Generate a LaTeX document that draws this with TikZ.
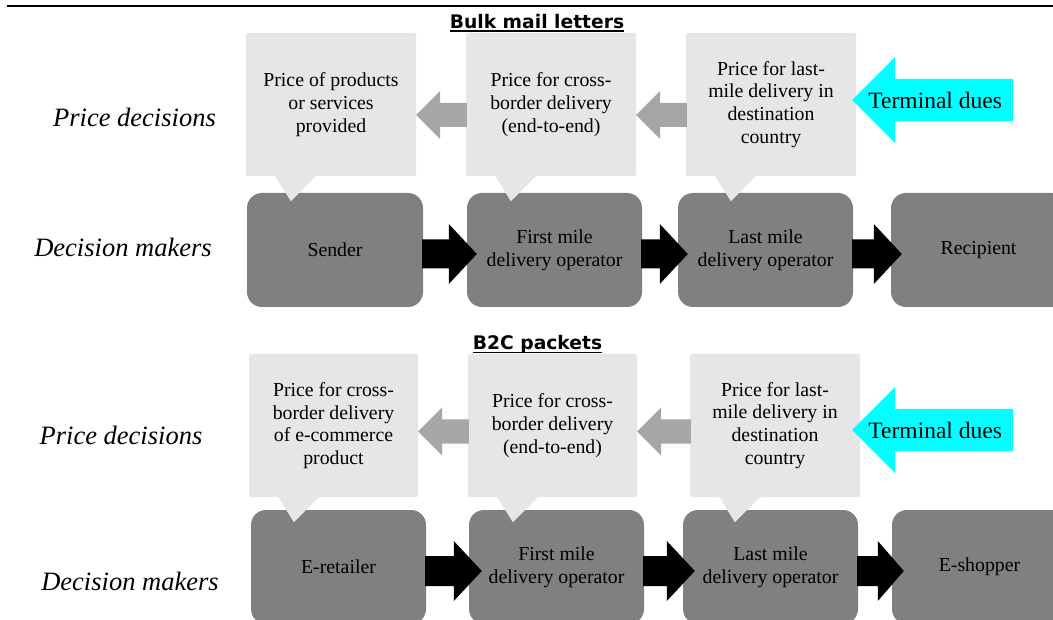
\documentclass[tikz,border=0pt]{standalone}
\usepackage{fontspec}
\setmainfont{Liberation Serif}
\newfontfamily\headfont{DejaVu Sans}
\usetikzlibrary{calc}

\definecolor{boxlight}{HTML}{E6E6E6}
\definecolor{boxdark}{HTML}{808080}
\definecolor{flowgrey}{HTML}{A6A6A6}
\definecolor{duescyan}{HTML}{00FFFF}

\tikzset{
  pricebox/.style={fill=boxlight, rounded corners=1.5pt, minimum width=170pt,
    minimum height=143pt, inner sep=0pt, align=center,
    font=\fontsize{19.8}{22.7}\selectfont},
  actorbox/.style={fill=boxdark, rounded corners=15pt, minimum width=175pt,
    minimum height=114pt, inner sep=0pt, align=center, text=black,
    font=\fontsize{19.8}{22.7}\selectfont},
  rowlabel/.style={inner sep=0pt, anchor=base,
    font=\fontsize{26.5}{30}\selectfont\itshape},
  sectiontitle/.style={inner sep=0pt, anchor=base,
    font=\headfont\bfseries\fontsize{18.7}{21}\selectfont},
  duestext/.style={inner sep=0pt, font=\fontsize{23.5}{26}\selectfont},
}

% speech-bubble tail under a price box
\newcommand\callout[1]{%
  \fill[boxlight] ($(#1.south west)+(29,-1)$) -- ($(#1.south west)+(71,-1)$)
    -- ($(#1.south west)+(45,25)$) -- cycle;}

% block arrow: colour, tail point, tip point, signed head length,
% head half-width, shaft half-width
\newcommand\blockarrow[6]{%
  \fill[#1] let \p1=#2, \p2=#3 in
    (\x1,{\y2+#6}) -- ({\x2-(#4)},{\y2+#6}) -- ({\x2-(#4)},{\y2+#5})
    -- (\x2,\y2) -- ({\x2-(#4)},{\y2-#5}) -- ({\x2-(#4)},{\y2-#6})
    -- (\x1,{\y2-#6}) -- cycle;}

\begin{document}
\begin{tikzpicture}[x=1pt,y=-1pt]
\clip (0,0) rectangle (1053,620);
\fill[white] (0,0) rectangle (1053,620);

% rule under the heading
\draw[line width=2pt] (7,6.3) -- (1053,6.3);

% ---------- Bulk mail letters ----------
\node[sectiontitle] (ttop) at (537,28.5) {Bulk mail letters};
\draw[line width=1.5pt] ($(ttop.base west)+(0,2.6)$) -- ($(ttop.base east)+(0,2.6)$);

\node[rowlabel] (lpriceA) at (134.5,127) {Price decisions};
\node[rowlabel] (lmakerA) at (123,257) {Decision makers};

\node[pricebox] (pa1) at (331,104.5) {Price of products\\or services\\provided};
\node[pricebox] (pa2) at (551,104.5) {Price for cross-\\border delivery\\(end-to-end)};
\node[pricebox] (pa3) at (771,104.5) {Price for last-\\mile delivery in\\destination\\country};

\node[actorbox, minimum width=176pt] (aa1) at (335,250) {Sender};
\node[actorbox] (aa2) at (554.5,250) {First mile\\delivery operator};
\node[actorbox] (aa3) at (765.5,250) {Last mile\\delivery operator};
\node[actorbox] (aa4) at (978.5,250) {Recipient};

\callout{pa1}\callout{pa2}\callout{pa3}

\blockarrow{flowgrey}{($(pa2.west)+(1,10.5)$)}{($(pa1.east)+(0,10.5)$)}{-24pt}{24pt}{12pt}
\blockarrow{flowgrey}{($(pa3.west)+(1,10.5)$)}{($(pa2.east)+(0,10.5)$)}{-24pt}{24pt}{12pt}

\blockarrow{black}{($(aa1.east)+(-1,4)$)}{($(aa2.west)+(10,4)$)}{28pt}{30pt}{14.5pt}
\blockarrow{black}{($(aa2.east)+(-1,4)$)}{($(aa3.west)+(10,4)$)}{28pt}{30pt}{14.5pt}
\blockarrow{black}{($(aa3.east)+(-1,4)$)}{($(aa4.west)+(11,4)$)}{28pt}{30pt}{14.5pt}

\coordinate (duesA) at (1013,100);
\blockarrow{duescyan}{(duesA)}{($(pa3.east)+(-4,-4.5)$)}{-43pt}{43pt}{21pt}
\node[duestext] (tdA) at ($(pa3.east)+(79,-4.5)$) {Terminal dues};

% ---------- B2C packets ----------
\node[sectiontitle] (tbot) at (537.5,350) {B2C packets};
\draw[line width=1.5pt] ($(tbot.base west)+(0,2.4)$) -- ($(tbot.base east)+(0,2.4)$);

\node[rowlabel] (lpriceB) at (121,444) {Price decisions};
\node[rowlabel] (lmakerB) at (130,590.5) {Decision makers};

\node[pricebox, minimum width=169pt] (pb1) at (333.5,425.5) {Price for cross-\\border delivery\\of e-commerce\\product};
\node[pricebox, minimum width=169pt] (pb2) at (552.5,425.5) {Price for cross-\\border delivery\\(end-to-end)};
\node[pricebox] (pb3) at (775,425.5) {Price for last-\\mile delivery in\\destination\\country};

\node[actorbox] (ab1) at (338.5,567) {E-retailer};
\node[actorbox] (ab2) at (556.5,567) {First mile\\delivery operator};
\node[actorbox] (ab3) at (770.5,567) {Last mile\\delivery operator};
\node[actorbox] (ab4) at (979.5,567) {E-shopper};

\callout{pb1}\callout{pb2}\callout{pb3}

\blockarrow{flowgrey}{($(pb2.west)+(1,6)$)}{($(pb1.east)+(0,6)$)}{-24pt}{24pt}{12pt}
\blockarrow{flowgrey}{($(pb3.west)+(1,6)$)}{($(pb2.east)+(0,6)$)}{-24pt}{24pt}{12pt}

\blockarrow{black}{($(ab1.east)+(-1,4)$)}{($(ab2.west)+(13,4)$)}{28pt}{30pt}{15pt}
\blockarrow{black}{($(ab2.east)+(-1,4)$)}{($(ab3.west)+(12,4)$)}{28pt}{30pt}{15pt}
\blockarrow{black}{($(ab3.east)+(-1,4)$)}{($(ab4.west)+(12,4)$)}{26pt}{30pt}{15pt}

\coordinate (duesB) at (1013,430);
\blockarrow{duescyan}{(duesB)}{($(pb3.east)+(-8,4.5)$)}{-43pt}{43pt}{21pt}
\node[duestext] (tdB) at ($(pb3.east)+(75,4.5)$) {Terminal dues};
\end{tikzpicture}
\end{document}
